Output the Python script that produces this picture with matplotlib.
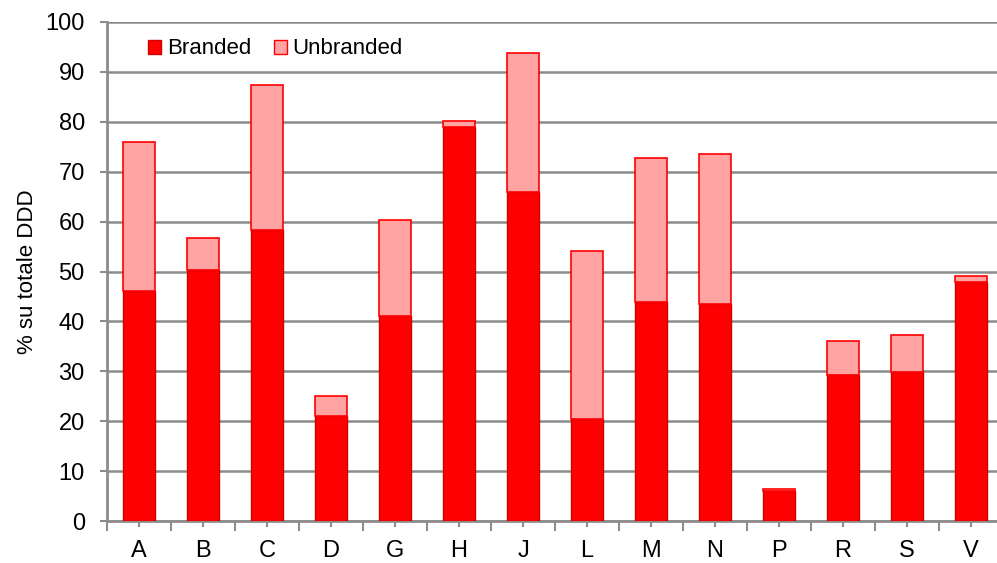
import matplotlib
matplotlib.use("Agg")
import matplotlib.pyplot as plt
import numpy as np
from matplotlib.patches import Patch

plt.rcParams['font.family'] = ['Liberation Sans', 'DejaVu Sans']

categories = ["A", "B", "C", "D", "G", "H", "J", "L", "M", "N", "P", "R", "S", "V"]
branded = [46.1, 50.3, 58.4, 21.0, 41.0, 79.0, 65.9, 20.5, 43.9, 43.5, 6.0, 29.3, 29.9, 47.8]
total = [75.9, 56.7, 87.4, 25.0, 60.4, 80.1, 93.8, 54.2, 72.8, 73.6, 6.4, 36.0, 37.2, 49.1]
unbranded = [t - b for t, b in zip(total, branded)]

RED = "#FF0000"
RED_EDGE = "#D00000"
PINK = "#FFA3A3"
GRID = "#8C8C8C"
TICK_FS = 17
TEXT_FS = 16

fig = plt.figure(figsize=(9.97, 5.63), dpi=100)
ax = fig.add_axes([107 / 997, 1 - 521 / 563, 896 / 997, 499 / 563])

x = np.arange(len(categories))
ax.bar(x, branded, width=0.5, color=RED, edgecolor=RED_EDGE, linewidth=1.0, zorder=3)
ax.bar(x, unbranded, bottom=branded, width=0.5, color=PINK, edgecolor=RED,
       linewidth=1.2, zorder=3)

ax.set_xlim(-0.5, len(categories) - 0.5)
ax.set_ylim(0, 100)
ax.set_yticks(np.arange(0, 101, 10))
ax.yaxis.grid(True, color=GRID, linewidth=1.8, zorder=0)
ax.set_axisbelow(True)

# category boundaries get long ticks, category centres short ones
ax.set_xticks(np.arange(-0.5, len(categories), 1.0))
ax.set_xticklabels([])
ax.set_xticks(x, minor=True)
ax.set_xticklabels(categories, minor=True)
ax.tick_params(axis="x", which="major", length=7, width=1.5, color=GRID)
ax.tick_params(axis="x", which="minor", length=4, width=1.5, color=GRID,
               labelsize=TICK_FS, pad=10)
ax.tick_params(axis="y", length=5, width=1.5, color=GRID, labelsize=TICK_FS, pad=11)

for side in ("top", "right"):
    ax.spines[side].set_visible(False)
for side in ("left", "bottom"):
    ax.spines[side].set_color(GRID)
    ax.spines[side].set_linewidth(2)

ax.set_ylabel("% su totale DDD", fontsize=TEXT_FS, labelpad=5)

handles = [Patch(facecolor=RED, edgecolor=RED_EDGE, label="Branded"),
           Patch(facecolor=PINK, edgecolor=RED, label="Unbranded")]
ax.legend(handles=handles, loc="center left", bbox_to_anchor=(0.036, 0.946),
          ncol=2, frameon=False, fontsize=TEXT_FS, handlelength=0.6, handleheight=0.6,
          handletextpad=0.25, columnspacing=1.0, borderaxespad=0)

fig.savefig("out.png", dpi=100)
